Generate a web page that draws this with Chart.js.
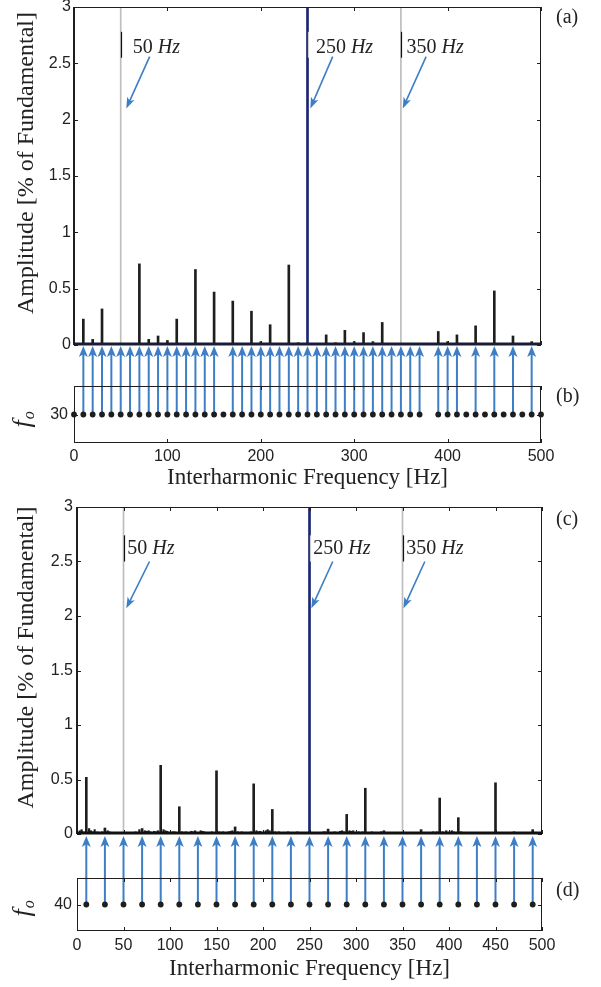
<!DOCTYPE html>
<html>
<head>
<meta charset="utf-8">
<script src="https://cdn.jsdelivr.net/npm/chart.js@4.4.1/dist/chart.umd.min.js"></script>
<style>
  body { margin: 0; background: #fff; }
  #wrap { position: relative; width: 601px; height: 987px; overflow: hidden; }
  #wrap canvas { position: absolute; left: 0; }
  .tag { position: absolute; left: 556px; font: 20px "Liberation Serif", "Times New Roman", serif; line-height: 20px; color: #222; }
</style>
</head>
<body>
<div id="wrap">
  <canvas id="chartA" width="601" height="352" style="top:0px"></canvas>
  <canvas id="chartB" width="601" height="156" style="top:340px"></canvas>
  <canvas id="chartC" width="601" height="345" style="top:496px"></canvas>
  <canvas id="chartD" width="601" height="157" style="top:830px"></canvas>
  <div class="tag" style="top:6px">(a)</div>
  <div class="tag" style="top:385px">(b)</div>
  <div class="tag" style="top:508px">(c)</div>
  <div class="tag" style="top:879px">(d)</div>
</div>
<script>
// ---- data ----
// panel (a): interharmonic lines, f_o = 30 Hz
const aFreq = [10, 20, 30, 40, 60, 70, 80, 90, 100, 110, 120, 130, 140, 150,
               170, 180, 190, 200, 210, 220, 230, 240,
               260, 270, 280, 290, 300, 310, 320, 330, 340,
               360, 370, 390, 400, 410, 430, 450, 470, 490];
const aAmp = [0.23, 0.05, 0.32, 0.01, 0.01, 0.72, 0.05, 0.08, 0.04, 0.23, 0.01, 0.67, 0.01, 0.47,
              0.39, 0.01, 0.30, 0.03, 0.18, 0.01, 0.71, 0.02,
              0.01, 0.09, 0.02, 0.13, 0.03, 0.11, 0.03, 0.20, 0.01,
              0.01, 0.01, 0.12, 0.03, 0.09, 0.17, 0.48, 0.08, 0.03];
const aArrows = [10, 20, 30, 40, 50, 60, 70, 80, 90, 100, 110, 120, 130, 140, 150,
                 170, 180, 190, 200, 210, 220, 230, 240, 250, 260, 270, 280, 290, 300,
                 310, 320, 330, 340, 350, 360, 370, 390, 400, 410, 430, 450, 470, 490];

// panel (b): detected interharmonic bins for f_o = 30
const bDots = [0, 10, 20, 30, 40, 50, 60, 70, 80, 90, 100, 110, 120, 130, 140, 150, 160,
               170, 180, 190, 200, 210, 220, 230, 240, 250, 260, 270, 280, 290, 300,
               310, 320, 330, 340, 350, 360, 370, 390, 400, 410, 420, 430, 440, 450,
               460, 470, 480, 490, 500];
const bLevel = [30];

// panel (c): interharmonic lines, f_o = 40 Hz
const cFreq = [10, 30, 70, 90, 110, 150, 170, 190, 210, 270, 290, 310, 330, 370, 390, 410, 450, 470, 490];
const cAmp = [0.52, 0.055, 0.05, 0.63, 0.25, 0.58, 0.065, 0.46, 0.225, 0.045, 0.18, 0.42, 0.03, 0.04,
              0.33, 0.15, 0.47, 0.02, 0.04];
const cNoiseFreq = [3, 5, 7, 13, 15, 17, 19, 22, 24, 27,
                    33, 35, 38, 42, 45, 48, 52, 55, 58, 63,
                    65, 67, 73, 75, 77, 79, 83, 85, 87, 93,
                    95, 97, 103, 105, 107, 113, 115, 117, 123, 125,
                    127, 133, 135, 137, 143, 145, 153, 155, 157, 163,
                    165, 167, 173, 175, 177, 183, 185, 187, 193, 195,
                    197, 203, 205, 207, 213, 215, 217, 223, 227, 233,
                    237, 243, 247, 253, 257, 263, 265, 267, 273, 277,
                    283, 285, 287, 293, 295, 297, 303, 305, 307, 313,
                    317, 323, 327, 333, 337, 343, 365, 373, 377, 383,
                    385, 387, 393, 395, 397, 403, 405, 407, 413, 417,
                    423, 427, 437, 443, 453, 463, 473, 483, 487, 497];
const cNoiseAmp = [0.03, 0.04, 0.02, 0.05, 0.03, 0.02, 0.04, 0.02, 0.015, 0.02,
                   0.03, 0.02, 0.015, 0.015, 0.01, 0.01, 0.01, 0.015, 0.01, 0.02,
                   0.015, 0.04, 0.03, 0.025, 0.03, 0.02, 0.025, 0.02, 0.03, 0.04,
                   0.03, 0.025, 0.02, 0.02, 0.015, 0.02, 0.015, 0.02, 0.025, 0.02,
                   0.03, 0.03, 0.025, 0.02, 0.015, 0.02, 0.02, 0.015, 0.02, 0.02,
                   0.025, 0.03, 0.02, 0.015, 0.02, 0.015, 0.01, 0.02, 0.03, 0.02,
                   0.025, 0.03, 0.04, 0.03, 0.02, 0.015, 0.02, 0.015, 0.02, 0.015,
                   0.02, 0.01, 0.015, 0.01, 0.01, 0.015, 0.02, 0.02, 0.015, 0.02,
                   0.025, 0.03, 0.02, 0.03, 0.025, 0.03, 0.02, 0.015, 0.02, 0.015,
                   0.02, 0.015, 0.02, 0.01, 0.01, 0.01, 0.01, 0.015, 0.01, 0.02,
                   0.015, 0.02, 0.02, 0.015, 0.03, 0.03, 0.02, 0.015, 0.02, 0.015,
                   0.01, 0.01, 0.01, 0.01, 0.01, 0.01, 0.01, 0.01, 0.015, 0.01];

// panel (d): detected bins for f_o = 40
const dDots = [10, 30, 50, 70, 90, 110, 130, 150, 170, 190, 210, 230, 250,
               270, 290, 310, 330, 350, 370, 390, 410, 430, 450, 470, 490];
const dArrows = dDots;
const dLevel = [40];

// reference lines shared by (a) and (c)
const markerFreq = [50, 350];
const markerAmp = [100, 100];
const fundFreq = [250];
const fundAmp = [100];

// ---- styling ----
const serif = '"Liberation Serif", "Times New Roman", serif';
const sans = '"Liberation Sans", Arial, sans-serif';
const ink = '#1e1e1e';
const arrowBlue = '#3d7ec5';
const navy = '#1b2670';

function pts(xs, ys) {
    return xs.map((f, i) => ({ x: f, y: ys[i] }));
}

function arrowHead(ctx, x1, y1, x2, y2, len, half) {
    const ang = Math.atan2(y2 - y1, x2 - x1);
    const c = Math.cos(ang), s = Math.sin(ang);
    ctx.beginPath();
    ctx.moveTo(x1, y1);
    ctx.lineTo(x2 - c * len * 0.7, y2 - s * len * 0.7);
    ctx.stroke();
    ctx.beginPath();
    ctx.moveTo(x2, y2);
    ctx.lineTo(x2 - c * len - s * half, y2 - s * len + c * half);
    ctx.lineTo(x2 - c * len * 0.75, y2 - s * len * 0.75);
    ctx.lineTo(x2 - c * len + s * half, y2 - s * len - c * half);
    ctx.closePath();
    ctx.fill();
}

// box, inward ticks and the zero line
const framePlugin = {
    id: 'frame',
    afterDatasetsDraw(chart, args, o) {
        const { ctx, chartArea: a, scales: { x, y } } = chart;
        ctx.save();
        ctx.strokeStyle = ink;
        ctx.lineWidth = 1;
        ctx.beginPath();
        ctx.moveTo(a.left, a.top + 0.5); ctx.lineTo(a.right, a.top + 0.5);
        ctx.moveTo(a.right - 0.5, a.top); ctx.lineTo(a.right - 0.5, a.bottom);
        if (o.closed) {
            ctx.moveTo(a.left, a.bottom - 0.5); ctx.lineTo(a.right, a.bottom - 0.5);
            ctx.moveTo(a.left + 0.5, a.top); ctx.lineTo(a.left + 0.5, a.bottom);
        }
        x.ticks.forEach(t => {
            const px = Math.round(x.getPixelForValue(t.value)) + 0.5;
            ctx.moveTo(px, a.top); ctx.lineTo(px, a.top + 4);
            ctx.moveTo(px, a.bottom); ctx.lineTo(px, a.bottom - 4);
        });
        y.ticks.forEach(t => {
            const py = Math.round(y.getPixelForValue(t.value)) + 0.5;
            ctx.moveTo(a.left, py); ctx.lineTo(a.left + 4, py);
            ctx.moveTo(a.right, py); ctx.lineTo(a.right - 4, py);
        });
        ctx.stroke();
        if (!o.closed) {
            ctx.lineWidth = 2;
            ctx.beginPath();
            ctx.moveTo(a.left, a.top); ctx.lineTo(a.left, a.bottom);
            ctx.stroke();
            const py = y.getPixelForValue(0);
            ctx.strokeStyle = o.baseColor || ink;
            ctx.lineWidth = 3;
            ctx.beginPath();
            ctx.moveTo(a.left, py - 1); ctx.lineTo(a.right, py - 1);
            ctx.stroke();
        }
        ctx.restore();
    }
};

// "50 Hz" style call-outs
const notesPlugin = {
    id: 'notes',
    afterDatasetsDraw(chart, args, o) {
        if (!o.items) return;
        const { ctx, scales: { x, y } } = chart;
        ctx.save();
        o.items.forEach(n => {
            const lx = Math.round(x.getPixelForValue(n.at)) + 0.5;
            ctx.strokeStyle = n.mark;
            ctx.lineWidth = 1.2;
            ctx.beginPath();
            ctx.moveTo(lx, y.getPixelForValue(o.markTop));
            ctx.lineTo(lx, y.getPixelForValue(o.markBottom));
            ctx.stroke();

            const tx = x.getPixelForValue(n.text), ty = y.getPixelForValue(o.textY);
            ctx.fillStyle = '#222';
            ctx.textBaseline = 'alphabetic';
            ctx.textAlign = 'left';
            ctx.font = `20px ${serif}`;
            const num = n.at + ' ';
            ctx.fillText(num, tx, ty);
            const w = ctx.measureText(num).width;
            ctx.font = `italic 20px ${serif}`;
            ctx.fillText('Hz', tx + w, ty);

            ctx.strokeStyle = arrowBlue;
            ctx.fillStyle = arrowBlue;
            ctx.lineWidth = 1.6;
            arrowHead(ctx, x.getPixelForValue(n.from), y.getPixelForValue(o.fromY),
                      x.getPixelForValue(n.to), y.getPixelForValue(o.toY), 11, 4);
        });
        ctx.restore();
    }
};

// blue arrows rising from the detected bins to the spectrum axis above
const stemsPlugin = {
    id: 'stems',
    beforeDatasetsDraw(chart, args, o) {
        if (!o.list) return;
        const { ctx, chartArea: a, scales: { x, y } } = chart;
        const y0 = y.getPixelForValue(o.level);
        const tip = a.top - o.rise;
        ctx.save();
        ctx.strokeStyle = arrowBlue;
        ctx.fillStyle = arrowBlue;
        ctx.lineWidth = 2;
        o.list.forEach(f => {
            const px = x.getPixelForValue(f);
            arrowHead(ctx, px, y0, px, tip, 11, 4.5);
        });
        ctx.restore();
    }
};

// rotated y titles
const sideTitlePlugin = {
    id: 'sideTitle',
    afterDraw(chart, args, o) {
        if (!o.text) return;
        const { ctx, chartArea: a } = chart;
        ctx.save();
        ctx.translate(o.x, (a.top + a.bottom) / 2 + o.dy);
        ctx.rotate(-Math.PI / 2);
        ctx.fillStyle = '#222';
        if (o.sub) {
            ctx.textAlign = 'left';
            ctx.textBaseline = 'alphabetic';
            ctx.font = `italic 26px ${serif}`;
            ctx.fillText(o.text, -9, 6);
            const w = ctx.measureText(o.text).width;
            ctx.font = `italic 16px ${serif}`;
            ctx.fillText(o.sub, -9 + w + 1, 10);
        } else {
            ctx.textAlign = 'center';
            ctx.textBaseline = 'middle';
            ctx.font = `24px ${serif}`;
            ctx.fillText(o.text, 0, 0);
        }
        ctx.restore();
    }
};

const tickFont = { family: sans, size: 16 };
const plainTick = v => String(v);

function fixWidth(w) {
    return s => { s.width = w; s.paddingTop = 0; s.paddingBottom = 0; };
}
function fixHeight(h) {
    return s => { s.height = h; s.paddingLeft = 0; s.paddingRight = 0; };
}

function spectrumChart(id, c) {
    const datasets = [
        { data: pts(fundFreq, fundAmp), backgroundColor: navy, barThickness: 2, grouped: false },
        { data: pts(c.freq, c.amp), backgroundColor: ink, barThickness: 2, grouped: false },
        { data: pts(markerFreq, markerAmp), backgroundColor: '#bdbdbd', barThickness: 1, grouped: false }
    ];
    if (c.noiseFreq) {
        datasets.splice(2, 0, { data: pts(c.noiseFreq, c.noiseAmp), backgroundColor: ink, barThickness: 1.5, grouped: false });
    }
    return new Chart(document.getElementById(id), {
        type: 'bar',
        data: { datasets },
        options: {
            responsive: false,
            animation: false,
            layout: { padding: c.pad },
            plugins: {
                legend: { display: false },
                tooltip: { enabled: false },
                frame: { closed: false, baseColor: c.baseColor },
                notes: c.notes,
                sideTitle: { text: 'Amplitude [% of Fundamental]', x: 27, dy: -13 }
            },
            scales: {
                x: { type: 'linear', min: 0, max: 500, offset: false, display: false, ticks: { stepSize: c.xStep } },
                y: {
                    min: 0, max: 3,
                    ticks: { stepSize: 0.5, font: tickFont, color: '#222', padding: c.tickPad, callback: plainTick },
                    grid: { display: false, drawTicks: false },
                    border: { display: false },
                    afterFit: fixWidth(c.axisW)
                }
            }
        },
        plugins: [framePlugin, notesPlugin, sideTitlePlugin]
    });
}

function binChart(id, c) {
    return new Chart(document.getElementById(id), {
        type: 'scatter',
        data: {
            datasets: [{
                data: c.dots.map(f => ({ x: f, y: c.level[0] })),
                pointRadius: 2.9,
                pointBackgroundColor: ink,
                pointBorderWidth: 0,
                clip: false
            }]
        },
        options: {
            responsive: false,
            animation: false,
            layout: { padding: c.pad },
            plugins: {
                legend: { display: false },
                tooltip: { enabled: false },
                frame: { closed: true },
                stems: { list: c.arrows, level: c.level[0], rise: c.rise },
                sideTitle: { text: 'f', sub: 'o', x: 24, dy: c.titleDy }
            },
            scales: {
                x: {
                    type: 'linear', min: 0, max: 500,
                    ticks: { stepSize: c.xStep, font: tickFont, color: '#222', padding: c.xPad, maxRotation: 0 },
                    grid: { display: false, drawTicks: false },
                    border: { display: false },
                    title: {
                        display: true, text: 'Interharmonic Frequency [Hz]',
                        font: { family: serif, size: 23 }, color: '#222',
                        padding: { top: 0, bottom: 4 }
                    },
                    afterFit: fixHeight(c.axisH)
                },
                y: {
                    min: c.level[0] - 10, max: c.level[0] + 10,
                    afterBuildTicks: s => { s.ticks = c.level.map(v => ({ value: v })); },
                    ticks: { font: tickFont, color: '#222', padding: c.yPad },
                    grid: { display: false, drawTicks: false },
                    border: { display: false },
                    afterFit: fixWidth(c.axisW)
                }
            }
        },
        plugins: [framePlugin, stemsPlugin, sideTitlePlugin]
    });
}

spectrumChart('chartA', {
    freq: aFreq, amp: aAmp, xStep: 100, axisW: 74, tickPad: 3,
    pad: { top: 7, right: 60, bottom: 7, left: 0 },
    baseColor: '#1a1d35',
    notes: {
        textY: 2.59, markTop: 2.78, markBottom: 2.55, fromY: 2.56, toY: 2.10,
        items: [
            { at: 50, text: 63, from: 81, to: 56, mark: '#111' },
            { at: 250, text: 259, from: 277, to: 253, mark: '#cfcfcf' },
            { at: 350, text: 356, from: 377, to: 352, mark: '#111' }
        ]
    }
});

binChart('chartB', {
    dots: bDots, arrows: aArrows, level: bLevel, xStep: 100,
    axisW: 74, axisH: 53, xPad: 4, yPad: 6, rise: 40, titleDy: 4,
    pad: { top: 46, right: 60, bottom: 0, left: 0 }
});

spectrumChart('chartC', {
    freq: cFreq, amp: cAmp, noiseFreq: cNoiseFreq, noiseAmp: cNoiseAmp,
    xStep: 50, axisW: 77, tickPad: 4,
    pad: { top: 11, right: 59, bottom: 7, left: 0 },
    baseColor: '#111',
    notes: {
        textY: 2.57, markTop: 2.74, markBottom: 2.5, fromY: 2.50, toY: 2.07,
        items: [
            { at: 50, text: 54, from: 78, to: 53, mark: '#111' },
            { at: 250, text: 254, from: 275, to: 252, mark: '#cfcfcf' },
            { at: 350, text: 354, from: 374, to: 351, mark: '#111' }
        ]
    }
});

binChart('chartD', {
    dots: dDots, arrows: dArrows, level: dLevel, xStep: 50,
    axisW: 77, axisH: 56, xPad: 5, yPad: 5, rise: 42, titleDy: 3,
    pad: { top: 48, right: 59, bottom: 0, left: 0 }
});
</script>
</body>
</html>
